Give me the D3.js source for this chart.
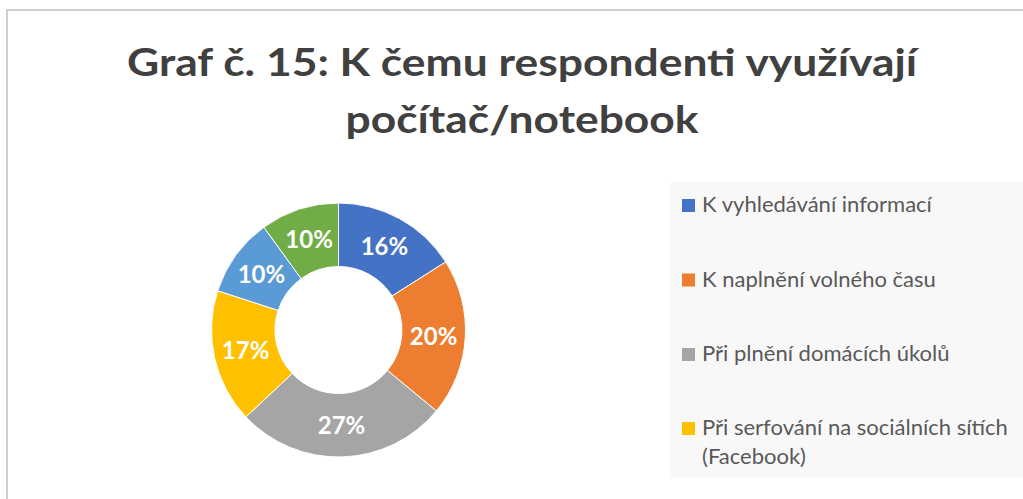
<!DOCTYPE html>
<html>
<head>
<meta charset="utf-8">
<script src="https://cdn.jsdelivr.net/npm/d3@7"></script>
<style>
  html, body { margin: 0; padding: 0; background: #ffffff; }
  svg { display: block; }
</style>
</head>
<body>
<svg id="chart" width="1023" height="499"></svg>
<script>
// ---- data ----
const titleLines = ["Graf č. 15: K čemu respondenti využívají", "počítač/notebook"];
const categories = ["K vyhledávání informací", "K naplnění volného času", "Při plnění domácích úkolů", "Při serfování na sociálních sítích (Facebook)", "Ostatní 1", "Ostatní 2"];
const values = [16, 20, 27, 17, 10, 10];
const colors = ["#4472C4", "#ED7D31", "#A5A5A5", "#FFC000", "#5B9BD5", "#70AD47"];
const legendCount = 4; // only the first four entries are visible in the legend

const svg = d3.select("#chart");
const W = 1023, H = 499;

svg.append("rect").attr("x", 0).attr("y", 0).attr("width", W).attr("height", H).attr("fill", "#ffffff");
// chart frame (only top and left visible)
svg.append("rect").attr("x", 7).attr("y", 10).attr("width", 1200).attr("height", 700)
  .attr("fill", "none").attr("stroke", "#d0d0d0").attr("stroke-width", 2);

function fitSize(sel, target, base) {
  sel.style("font-size", base + "px");
  const w = sel.node().getComputedTextLength();
  const s = base * target / w;
  sel.style("font-size", s + "px");
  return s;
}

// ---- title ----
const titleFont = "Lato, 'Open Sans', sans-serif";
const titleWidths = [790, 353];
const titleY = [76, 133];
titleLines.forEach((t, i) => {
  svg.append("text").attr("x", 522).attr("y", titleY[i]).attr("text-anchor", "middle")
    .style("font-family", titleFont).style("font-weight", "700").style("font-size", "38px")
    .attr("textLength", titleWidths[i]).attr("lengthAdjust", "spacingAndGlyphs")
    .attr("fill", "#404040").text(t);
});

// ---- donut ----
const cx = 338.5, cy = 330, R = 127, r = 63.5;
const pie = d3.pie().sort(null).value(d => d)(values);
const arc = d3.arc().innerRadius(r).outerRadius(R);
const g = svg.append("g").attr("transform", `translate(${cx},${cy})`);
g.selectAll("path").data(pie).join("path")
  .attr("d", arc).attr("fill", (d, i) => colors[i])
  .attr("stroke", "#ffffff").attr("stroke-width", 1);

const total = d3.sum(values);
g.selectAll("text.lbl").data(pie).join("text").attr("class", "lbl")
  .attr("transform", d => `translate(${arc.centroid(d)})`)
  .attr("text-anchor", "middle").attr("dy", "0.36em")
  .style("font-family", titleFont).style("font-weight", "700").style("font-size", "24px")
  .attr("fill", "#ffffff")
  .text(d => Math.round(d.value / total * 100) + "%");

// ---- legend ----
svg.append("rect").attr("x", 670).attr("y", 182).attr("width", 400).attr("height", 296).attr("fill", "#f8f8f8");
const legFont = "Lato, 'Open Sans', sans-serif";
const probe = svg.append("text").style("font-family", legFont).text("Při serfování na sociálních sítích");
const ls = fitSize(probe, 306, 20);
probe.remove();
const maxW = 312;
const rowY = [212, 286.5, 361, 435];
const legend = svg.append("g");
categories.slice(0, legendCount).forEach((name, i) => {
  legend.append("rect").attr("x", 682).attr("y", rowY[i] - 13).attr("width", 13).attr("height", 13).attr("fill", colors[i]);
  const txt = legend.append("text").attr("x", 702).attr("y", rowY[i])
    .style("font-family", legFont).style("font-size", ls + "px").attr("fill", "#595959");
  const words = name.split(" ");
  let line = [];
  let tspan = txt.append("tspan").attr("x", 702).attr("dy", 0);
  words.forEach(w => {
    line.push(w);
    tspan.text(line.join(" "));
    if (tspan.node().getComputedTextLength() > maxW && line.length > 1) {
      line.pop();
      tspan.text(line.join(" "));
      line = [w];
      tspan = txt.append("tspan").attr("x", 702).attr("dy", 28.5).text(w);
    }
  });
});
</script>
</body>
</html>
